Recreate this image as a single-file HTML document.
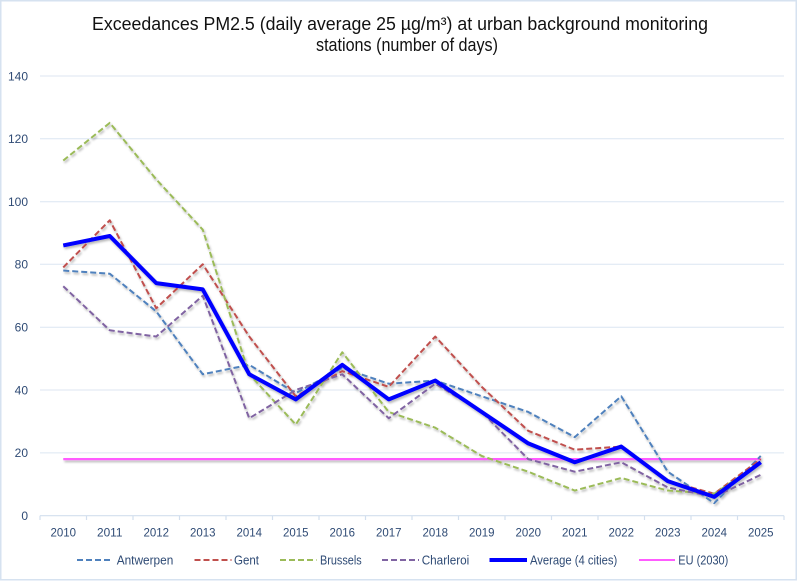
<!DOCTYPE html>
<html>
<head>
<meta charset="utf-8">
<style>
  html,body{margin:0;padding:0;background:#fff;}
  svg{display:block;}
  text{font-family:"Liberation Sans",Arial,sans-serif;}
</style>
</head>
<body>
<svg width="800" height="581" viewBox="0 0 800 581" xmlns="http://www.w3.org/2000/svg">
  <defs>
    <filter id="sh" x="-5%" y="-5%" width="110%" height="115%">
      <feDropShadow dx="1.2" dy="2" stdDeviation="1" flood-color="#000" flood-opacity="0.28"/>
    </filter>
  </defs>
  <rect x="0" y="0" width="800" height="581" fill="#fff"/>
  <rect x="0.75" y="0.75" width="795.5" height="579" fill="#fff" stroke="#D6E2F0" stroke-width="1.5"/>

  <!-- Title -->
  <text x="92" y="30" font-size="18" fill="#111" textLength="616" lengthAdjust="spacingAndGlyphs">Exceedances PM2.5 (daily average 25 µg/m³) at urban background monitoring</text>
  <text x="316" y="51" font-size="18" fill="#111" textLength="182" lengthAdjust="spacingAndGlyphs">stations (number of days)</text>

  <!-- Gridlines -->
  <g stroke="#DCE6F2" stroke-width="1">
    <line x1="40" y1="76" x2="784" y2="76"/>
    <line x1="40" y1="138.8" x2="784" y2="138.8"/>
    <line x1="40" y1="201.7" x2="784" y2="201.7"/>
    <line x1="40" y1="264.3" x2="784" y2="264.3"/>
    <line x1="40" y1="327.2" x2="784" y2="327.2"/>
    <line x1="40" y1="390" x2="784" y2="390"/>
    <line x1="40" y1="452.9" x2="784" y2="452.9"/>
  </g>
  <!-- X axis -->
  <g stroke="#D3DFEE" stroke-width="1.2">
    <line x1="40" y1="515.7" x2="784" y2="515.7"/>
    <line x1="40" y1="515.7" x2="40" y2="520"/>
    <line x1="86.5" y1="515.7" x2="86.5" y2="520"/>
    <line x1="133" y1="515.7" x2="133" y2="520"/>
    <line x1="179.5" y1="515.7" x2="179.5" y2="520"/>
    <line x1="226" y1="515.7" x2="226" y2="520"/>
    <line x1="272.5" y1="515.7" x2="272.5" y2="520"/>
    <line x1="319" y1="515.7" x2="319" y2="520"/>
    <line x1="365.5" y1="515.7" x2="365.5" y2="520"/>
    <line x1="412" y1="515.7" x2="412" y2="520"/>
    <line x1="458.5" y1="515.7" x2="458.5" y2="520"/>
    <line x1="505" y1="515.7" x2="505" y2="520"/>
    <line x1="551.5" y1="515.7" x2="551.5" y2="520"/>
    <line x1="598" y1="515.7" x2="598" y2="520"/>
    <line x1="644.5" y1="515.7" x2="644.5" y2="520"/>
    <line x1="691" y1="515.7" x2="691" y2="520"/>
    <line x1="737.5" y1="515.7" x2="737.5" y2="520"/>
    <line x1="784" y1="515.7" x2="784" y2="520"/>
  </g>

  <!-- Y labels -->
  <g font-size="12" fill="#2F4B75" text-anchor="end">
    <text x="28" y="80.3">140</text>
    <text x="28" y="143.1">120</text>
    <text x="28" y="206">100</text>
    <text x="28" y="268.6">80</text>
    <text x="28" y="331.5">60</text>
    <text x="28" y="394.3">40</text>
    <text x="28" y="457.2">20</text>
    <text x="28" y="520">0</text>
  </g>
  <!-- X labels -->
  <g font-size="12" fill="#2F4B75" text-anchor="middle">
    <text x="63.25" y="536.5" textLength="25.5" lengthAdjust="spacingAndGlyphs">2010</text>
    <text x="109.75" y="536.5" textLength="25.5" lengthAdjust="spacingAndGlyphs">2011</text>
    <text x="156.25" y="536.5" textLength="25.5" lengthAdjust="spacingAndGlyphs">2012</text>
    <text x="202.75" y="536.5" textLength="25.5" lengthAdjust="spacingAndGlyphs">2013</text>
    <text x="249.25" y="536.5" textLength="25.5" lengthAdjust="spacingAndGlyphs">2014</text>
    <text x="295.75" y="536.5" textLength="25.5" lengthAdjust="spacingAndGlyphs">2015</text>
    <text x="342.25" y="536.5" textLength="25.5" lengthAdjust="spacingAndGlyphs">2016</text>
    <text x="388.75" y="536.5" textLength="25.5" lengthAdjust="spacingAndGlyphs">2017</text>
    <text x="435.25" y="536.5" textLength="25.5" lengthAdjust="spacingAndGlyphs">2018</text>
    <text x="481.75" y="536.5" textLength="25.5" lengthAdjust="spacingAndGlyphs">2019</text>
    <text x="528.25" y="536.5" textLength="25.5" lengthAdjust="spacingAndGlyphs">2020</text>
    <text x="574.75" y="536.5" textLength="25.5" lengthAdjust="spacingAndGlyphs">2021</text>
    <text x="621.25" y="536.5" textLength="25.5" lengthAdjust="spacingAndGlyphs">2022</text>
    <text x="667.75" y="536.5" textLength="25.5" lengthAdjust="spacingAndGlyphs">2023</text>
    <text x="714.25" y="536.5" textLength="25.5" lengthAdjust="spacingAndGlyphs">2024</text>
    <text x="760.75" y="536.5" textLength="25.5" lengthAdjust="spacingAndGlyphs">2025</text>
  </g>

  <!-- Series -->
  <g fill="none" stroke-linejoin="round" filter="url(#sh)">
    <!-- EU (2030) -->
    <polyline stroke="#FF5CFF" stroke-width="2.2" points="63.25,459.13 760.75,459.13"/>
    <!-- Antwerpen -->
    <polyline stroke="#4F81BD" stroke-width="2" stroke-dasharray="6 3"
      points="63.25,270.55 109.75,273.70 156.25,311.41 202.75,374.27 249.25,364.84 295.75,393.13 342.25,367.98 388.75,383.70 435.25,380.56 481.75,396.27 528.25,411.98 574.75,437.13 621.25,396.27 667.75,471.70 714.25,503.13 760.75,455.98"/>
    <!-- Gent -->
    <polyline stroke="#C0504D" stroke-width="2" stroke-dasharray="6 3"
      points="63.25,267.41 109.75,220.27 156.25,308.27 202.75,264.27 249.25,336.55 295.75,396.27 342.25,371.13 388.75,386.84 435.25,336.55 481.75,386.84 528.25,430.84 574.75,449.70 621.25,446.56 667.75,481.13 714.25,493.70 760.75,459.13"/>
    <!-- Brussels -->
    <polyline stroke="#9BBB59" stroke-width="2" stroke-dasharray="6 3"
      points="63.25,160.55 109.75,122.84 156.25,179.40 202.75,229.70 249.25,374.27 295.75,424.56 342.25,352.27 388.75,411.98 435.25,427.70 481.75,455.98 528.25,471.70 574.75,490.56 621.25,477.99 667.75,490.56 714.25,493.70 760.75,462.27"/>
    <!-- Charleroi -->
    <polyline stroke="#8064A2" stroke-width="2" stroke-dasharray="6 3"
      points="63.25,286.27 109.75,330.27 156.25,336.55 202.75,295.70 249.25,418.27 295.75,389.98 342.25,374.27 388.75,418.27 435.25,383.70 481.75,411.98 528.25,459.13 574.75,471.70 621.25,462.27 667.75,487.41 714.25,496.84 760.75,474.84"/>
    <!-- Average -->
    <polyline stroke="#0000FF" stroke-width="4"
      points="63.25,245.41 109.75,235.98 156.25,283.13 202.75,289.41 249.25,374.27 295.75,399.41 342.25,364.84 388.75,399.41 435.25,380.56 481.75,411.98 528.25,443.41 574.75,462.27 621.25,446.56 667.75,481.13 714.25,496.84 760.75,462.27"/>
  </g>

  <!-- Legend -->
  <g fill="none">
    <line x1="77" y1="560" x2="113" y2="560" stroke="#4F81BD" stroke-width="2" stroke-dasharray="6 3"/>
    <line x1="194.5" y1="560" x2="231.5" y2="560" stroke="#C0504D" stroke-width="2" stroke-dasharray="6 3"/>
    <line x1="280" y1="560" x2="316.5" y2="560" stroke="#9BBB59" stroke-width="2" stroke-dasharray="6 3"/>
    <line x1="382" y1="560" x2="419" y2="560" stroke="#8064A2" stroke-width="2" stroke-dasharray="6 3"/>
    <line x1="489.5" y1="560" x2="527" y2="560" stroke="#0000FF" stroke-width="4"/>
    <line x1="639" y1="560" x2="675" y2="560" stroke="#FF5CFF" stroke-width="2"/>
  </g>
  <g font-size="13" fill="#2F4B75">
    <text x="116.7" y="564.5" textLength="56.6" lengthAdjust="spacingAndGlyphs">Antwerpen</text>
    <text x="234" y="564.5" textLength="25" lengthAdjust="spacingAndGlyphs">Gent</text>
    <text x="320" y="564.5" textLength="41.7" lengthAdjust="spacingAndGlyphs">Brussels</text>
    <text x="421.7" y="564.5" textLength="47.6" lengthAdjust="spacingAndGlyphs">Charleroi</text>
    <text x="530" y="564.5" textLength="87.3" lengthAdjust="spacingAndGlyphs">Average (4 cities)</text>
    <text x="678.3" y="564.5" textLength="50" lengthAdjust="spacingAndGlyphs">EU (2030)</text>
  </g>
</svg>
</body>
</html>
